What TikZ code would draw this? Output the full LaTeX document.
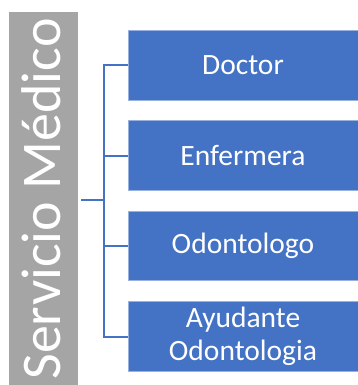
\documentclass[tikz,border=0pt]{standalone}
\usepackage{fontspec}
\setmainfont{Carlito}
\definecolor{boxblue}{HTML}{4472C4}
\definecolor{bargray}{HTML}{A5A5A5}
\begin{document}
\begin{tikzpicture}[x=1pt,y=-1pt,
  rolebox/.style={rectangle, fill=boxblue, draw=white!45!boxblue, line width=0.6pt,
    minimum width=230pt, minimum height=69.5pt, inner sep=0pt, text=white, align=center,
    font=\fontsize{29.5}{32.5}\selectfont},
  conn/.style={draw=boxblue, line width=2pt},
  barbox/.style={rectangle, fill=bargray, draw=none, minimum width=69pt, minimum height=376pt, inner sep=0pt}]
\useasboundingbox (0,0) rectangle (358,385);
\node[barbox] (bar) at (43.5,200) {};
\node[rotate=90, anchor=base, text=white, inner sep=0pt, font=\fontsize{56}{60}\selectfont] (title) at (60,199) {Servicio Médico};
\node[rolebox] (a) at (243,65.5) {Doctor};
\node[rolebox] (b) at (243,155.5) {Enfermera};
\node[rolebox] (c) at (243,246) {Odontologo};
\node[rolebox] (d) at (243,336.5) {Ayudante\\Odontologia};
\coordinate (hub) at (103.5,200);
\draw[conn] ([xshift=3pt]bar.east) -- (hub);
\draw[conn] (a.west) -- (a.west -| hub) -- (d.west -| hub) -- (d.west);
\draw[conn] (b.west) -- (b.west -| hub);
\draw[conn] (c.west) -- (c.west -| hub);
\end{tikzpicture}
\end{document}
